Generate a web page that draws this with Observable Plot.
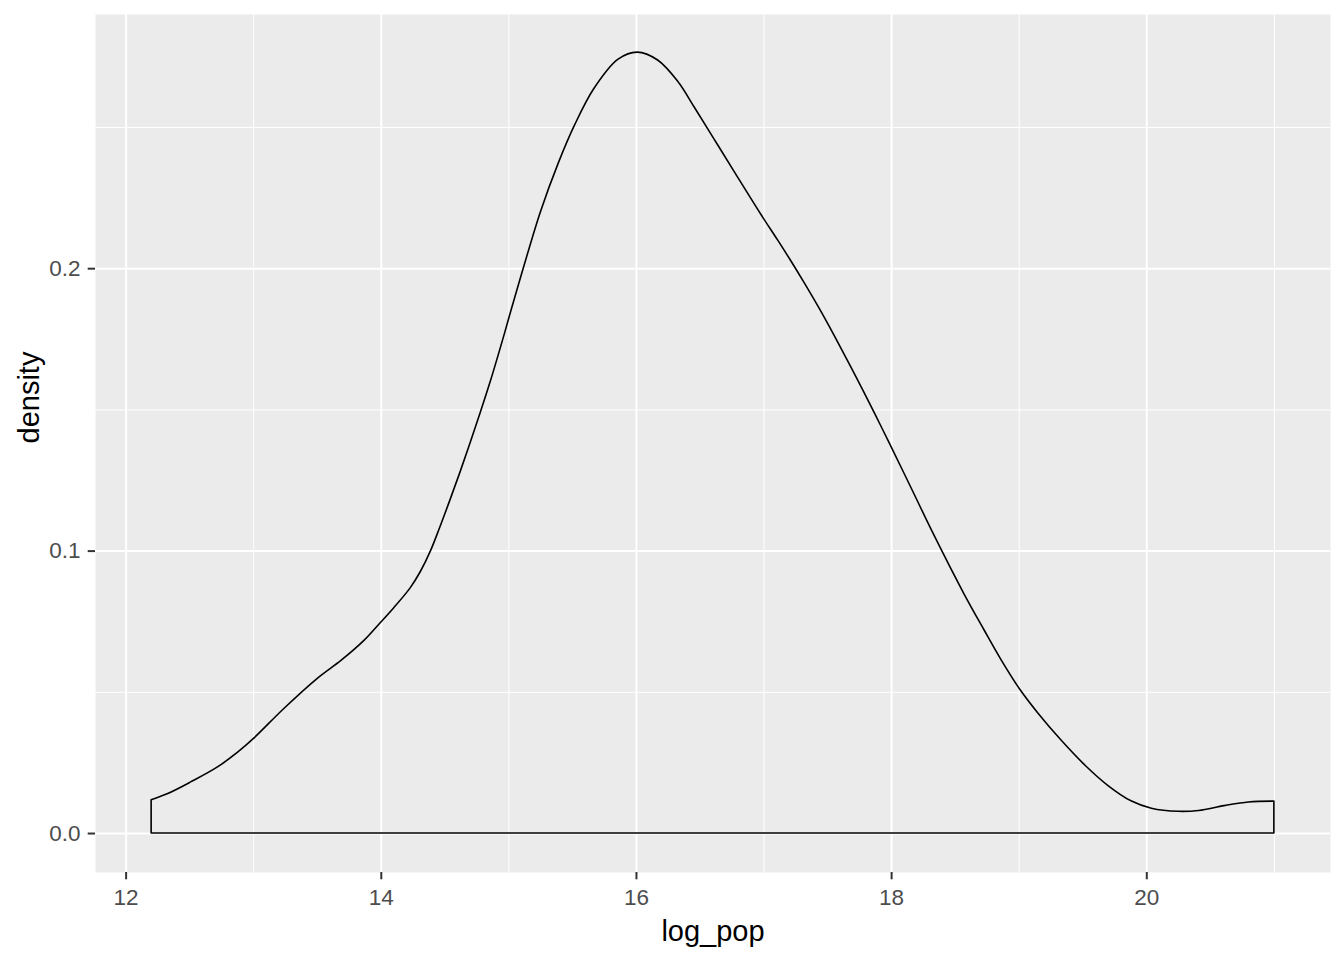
<!DOCTYPE html>
<html>
<head>
<meta charset="utf-8">
<script src="https://cdn.jsdelivr.net/npm/d3@7"></script>
<script src="https://cdn.jsdelivr.net/npm/@observablehq/plot@0.6"></script>
<style>
  html, body { margin: 0; padding: 0; background: #ffffff; }
  #chart svg { display: block; }
</style>
</head>
<body>
<div id="chart"></div>
<script>
// Density curve of log_pop
const logPop = [
  12.20, 12.33, 12.51, 12.72, 12.88, 13.00, 13.24, 13.50, 13.69, 13.87,
  13.99, 14.10, 14.23, 14.31, 14.39, 14.46, 14.54, 14.62, 14.70, 14.78,
  14.86, 14.97, 15.02, 15.12, 15.25, 15.39, 15.52, 15.67, 15.86, 16.01,
  16.17, 16.33, 16.46, 16.61, 16.77, 16.98, 17.11, 17.21, 17.31, 17.44,
  17.55, 17.65, 17.73, 17.83, 17.91, 17.99, 18.16, 18.34, 18.57, 18.73,
  18.86, 19.01, 19.15, 19.33, 19.52, 19.70, 19.88, 20.04, 20.25, 20.41,
  20.61, 20.80, 21.00
];
const density = [
  0.0118, 0.0140, 0.0181, 0.0234, 0.0287, 0.0334, 0.0441, 0.0547, 0.0612, 0.0683,
  0.0742, 0.0797, 0.0868, 0.0926, 0.1000, 0.1080, 0.1177, 0.1277, 0.1382, 0.1490,
  0.1602, 0.1770, 0.1850, 0.2005, 0.2198, 0.2371, 0.2508, 0.2636, 0.2740, 0.2765,
  0.2737, 0.2660, 0.2568, 0.2459, 0.2342, 0.2190, 0.2100, 0.2029, 0.1955, 0.1855,
  0.1765, 0.1680, 0.1611, 0.1522, 0.1450, 0.1377, 0.1219, 0.1051, 0.0848, 0.0718,
  0.0615, 0.0508, 0.0425, 0.0330, 0.0240, 0.0168, 0.0114, 0.0088, 0.0077, 0.0080,
  0.0097, 0.0110, 0.0113
];
const xMajorTicks = [12, 14, 16, 18, 20];
const xMinorTicks = [13, 15, 17, 19, 21];
const yMajorTicks = [0.0, 0.1, 0.2];
const yMinorTicks = [0.05, 0.15, 0.25];
const yTickLabels = ["0.0", "0.1", "0.2"];
const xTitle = "log_pop";
const yTitle = "density";

const data = logPop.map((x, i) => ({x, d: density[i]}));

const chart = Plot.plot({
  width: 1344,
  height: 960,
  marginLeft: 95,
  marginRight: 14,
  marginTop: 14,
  marginBottom: 88,
  style: {fontFamily: "'Liberation Sans', Arial, sans-serif", background: "#ffffff"},
  x: {domain: [11.76, 21.44], label: null},
  y: {domain: [-0.0138, 0.2900], label: null},
  marks: [
    Plot.frame({fill: "#EBEBEB", stroke: null}),
    Plot.ruleX(xMinorTicks, {stroke: "#ffffff", strokeWidth: 1}),
    Plot.ruleY(yMinorTicks, {stroke: "#ffffff", strokeWidth: 1}),
    Plot.ruleX(xMajorTicks, {stroke: "#ffffff", strokeWidth: 2}),
    Plot.ruleY(yMajorTicks, {stroke: "#ffffff", strokeWidth: 2}),
    Plot.areaY(data, {x: "x", y: "d", fill: "none", stroke: "#000000", strokeWidth: 1.6, curve: "catmull-rom"}),
    Plot.axisX({ticks: xMajorTicks, tickSize: 7.3, tickPadding: 9, fontSize: 22.5, stroke: "#333333", fill: "#4D4D4D", strokeWidth: 2, label: null}),
    Plot.axisY({ticks: yMajorTicks, tickFormat: (d, i) => yTickLabels[i], tickSize: 7.3, tickPadding: 7.7, fontSize: 22.5, stroke: "#333333", fill: "#4D4D4D", strokeWidth: 2, label: null}),
    Plot.text([xTitle], {frameAnchor: "bottom", dy: 68, fontSize: 29, fill: "#000000"}),
    Plot.text([yTitle], {frameAnchor: "left", dx: -66, rotate: -90, fontSize: 29, fill: "#000000"})
  ]
});
document.getElementById("chart").appendChild(chart);
</script>
</body>
</html>
